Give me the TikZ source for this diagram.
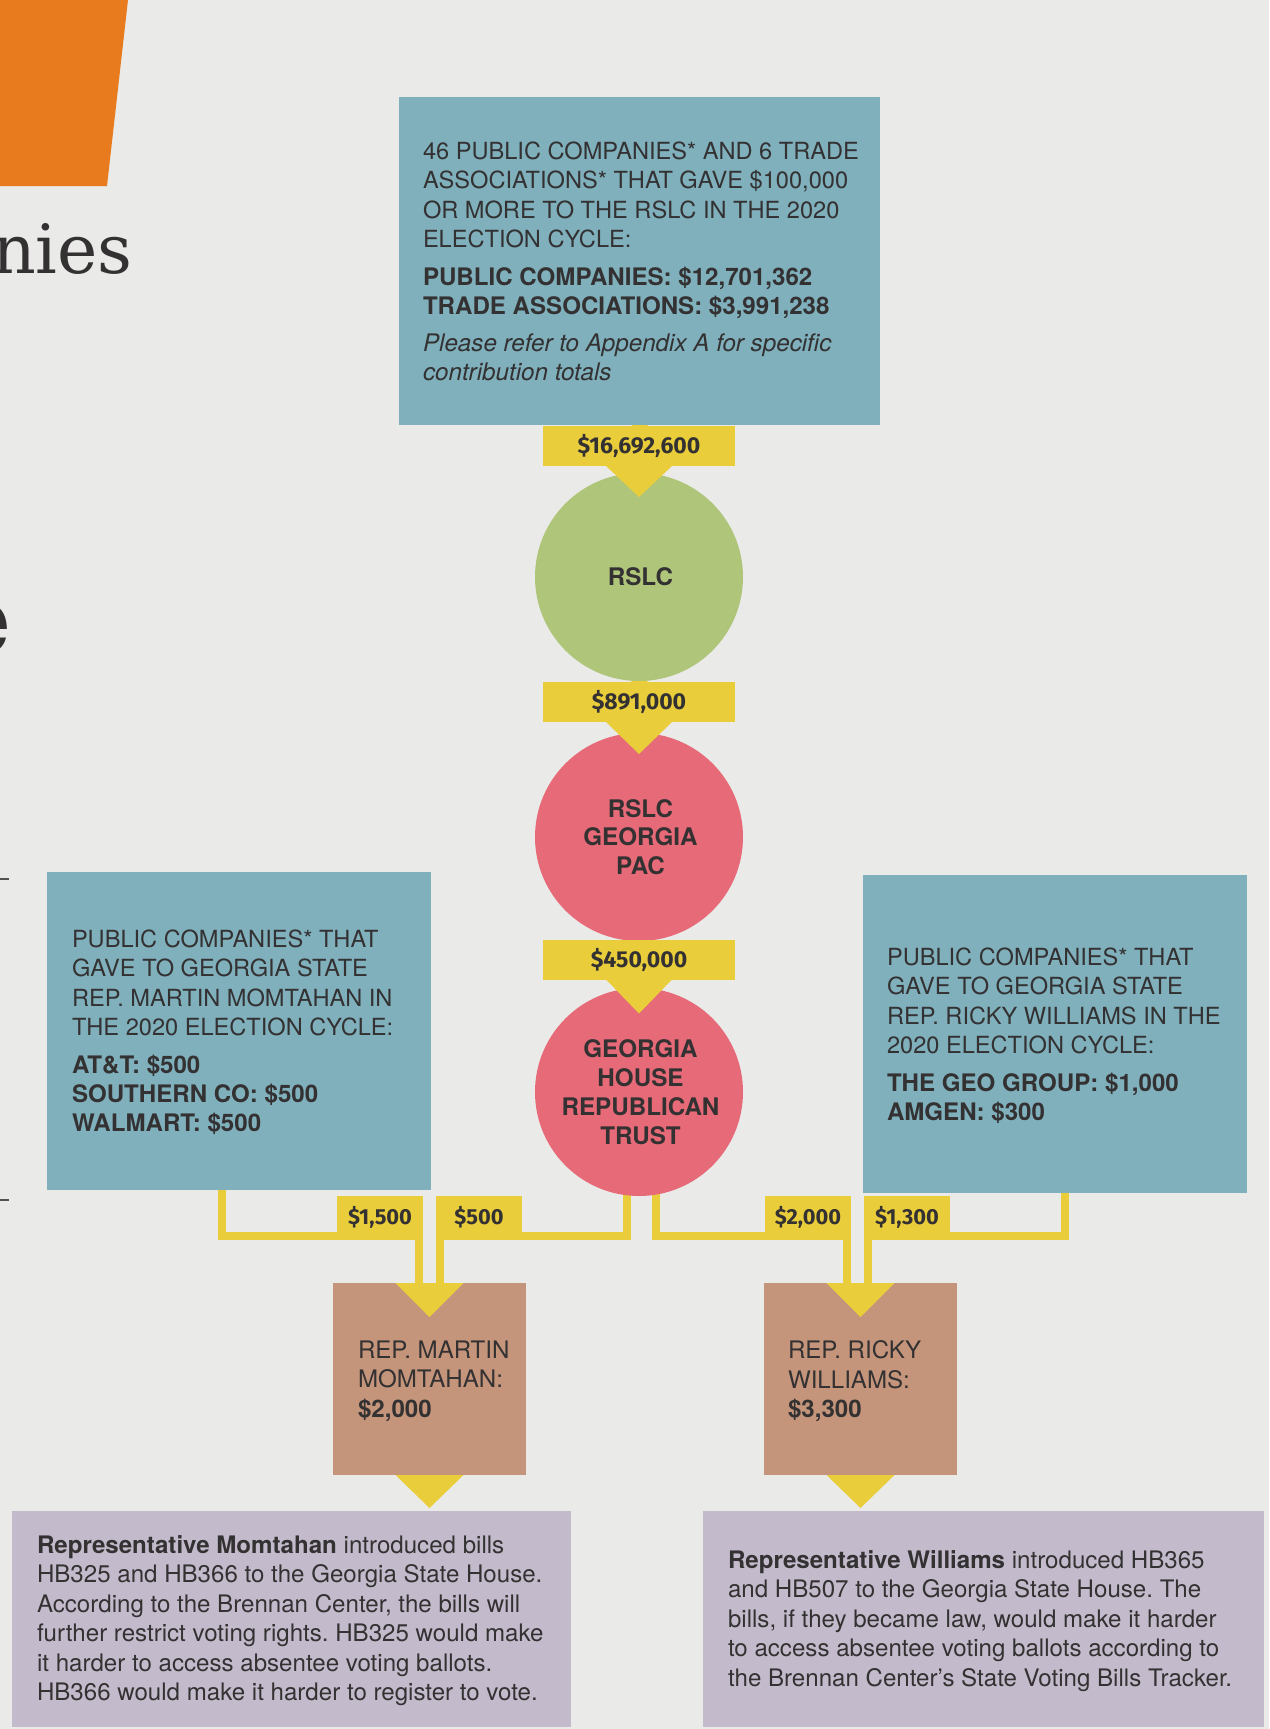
\documentclass[tikz,border=0pt]{standalone}
\usepackage{fontspec}
\setmainfont{TeX Gyre Heros}
\newfontfamily\labfont{Fira Sans}
\newfontfamily\slabfont{DejaVu Serif}
\frenchspacing
\definecolor{bgc}{HTML}{EAEAE8}
\definecolor{boxblue}{HTML}{7FB0BC}
\definecolor{yel}{HTML}{E9CD3B}
\definecolor{grn}{HTML}{AFC57A}
\definecolor{pnk}{HTML}{E66A77}
\definecolor{reptan}{HTML}{C4957B}
\definecolor{lil}{HTML}{C3BBCB}
\definecolor{org}{HTML}{E87B1D}
\definecolor{ink}{HTML}{333132}
\begin{document}
\begin{tikzpicture}[x=1pt,y=-1pt,
  panel/.style={rectangle, inner sep=0, outer sep=0, draw=none},
  maintxt/.style={anchor=north west, inner sep=0, outer sep=0, align=left, text=ink,
    font=\frenchspacing\fontsize{23.6}{29.2}\selectfont},
  boldtxt/.style={maintxt, font=\bfseries\fontsize{24.1}{29.2}\selectfont},
  reptxt/.style={maintxt, font=\fontsize{24.1}{29.5}\selectfont},
  notetxt/.style={anchor=north west, inner sep=0, outer sep=0, align=left, text=ink,
    font=\frenchspacing\fontsize{24.1}{29.4}\selectfont},
  circ/.style={circle, minimum size=208pt, inner sep=0, outer sep=0, text=ink, align=center,
    font=\bfseries\fontsize{24.2}{28.8}\selectfont},
  biglab/.style={rectangle, fill=yel, minimum width=192pt, minimum height=40pt, inner sep=0,
    outer sep=0, text=ink, font=\labfont\bfseries\fontsize{23}{27}\selectfont},
  smalllab/.style={rectangle, fill=yel, minimum width=86pt, minimum height=43pt, inner sep=0,
    outer sep=0, text=ink, font=\labfont\bfseries\fontsize{21.8}{25}\selectfont},
  conn/.style={draw=yel, line width=8pt},
  stem/.style={draw=yel, line width=16pt},
  tri/.style={fill=yel}
]
% canvas
\fill[bgc] (0,0) rectangle (1269,1729);
\useasboundingbox (0,0) rectangle (1269,1729);
\clip (0,0) rectangle (1269,1729);

% page fragments on the left
\fill[org] (0,0) -- (128,0) -- (107,186) -- (0,186) -- cycle;
\node[anchor=base east, inner sep=0, text=ink, font=\slabfont\fontsize{68}{70}\selectfont] (ttl) at (133,273) {nies};
\node[anchor=base east, inner sep=0, text=ink, font=\slabfont\fontsize{92}{92}\selectfont] (ttl2) at (12,652) {e};
\draw[ink!85, line width=1.2pt] (0,879) -- (9,879);
\draw[ink!85, line width=1.2pt] (0,1200) -- (9,1200);

% boxes
\node[panel, fill=boxblue, minimum width=481pt, minimum height=328pt] (topbox) at (639.5,261) {};
\node[panel, fill=boxblue, minimum width=384pt, minimum height=318pt] (lbox) at (239,1031) {};
\node[panel, fill=boxblue, minimum width=384pt, minimum height=318pt] (rbox) at (1055,1034) {};
\node[panel, fill=reptan, minimum width=193pt, minimum height=192pt] (mrep) at (429.5,1379) {};
\node[panel, fill=reptan, minimum width=193pt, minimum height=192pt] (wrep) at (860.5,1379) {};
\node[panel, fill=lil, minimum width=559pt, minimum height=216pt] (mnote) at (291.5,1619) {};
\node[panel, fill=lil, minimum width=561pt, minimum height=216pt] (wnote) at (983.5,1619) {};

% circle positions (for the stem)
\coordinate (cR) at (639,577);
\coordinate (cP) at (639,837);
\coordinate (cG) at (639,1092);

% central stem and branch connectors (behind circles)
\draw[stem] (topbox.south) -- (cG);
\coordinate (lk) at (222,1235.5);
\coordinate (ma) at (418.5,1235.5);
\coordinate (mb) at (440,1235.5);
\coordinate (gl) at (627,1235.5);
\coordinate (gr) at (656,1235.5);
\coordinate (wa) at (847,1235.5);
\coordinate (wb) at (868,1235.5);
\coordinate (rk) at (1065,1235.5);
\draw[conn] (lbox.south -| lk) -- (lk) -- (ma) -- (mrep.north -| ma);
\draw[conn] (cG -| gl) -- (gl) -- (mb) -- (mrep.north -| mb);
\draw[conn] (cG -| gr) -- (gr) -- (wa) -- (wrep.north -| wa);
\draw[conn] (rbox.south -| rk) -- (rk) -- (wb) -- (wrep.north -| wb);

% circles
\node[circ, fill=grn] (rslc) at (cR) {\hspace*{3pt}RSLC};
\node[circ, fill=pnk] (pac) at (cP) {\hspace*{3pt}RSLC\\\hspace*{3pt}GEORGIA\\\hspace*{3pt}PAC};
\node[circ, fill=pnk] (ghrt) at (cG) {\hspace*{3pt}GEORGIA\\\hspace*{3pt}HOUSE\\\hspace*{3pt}REPUBLICAN\\\hspace*{3pt}TRUST};

% amount labels on the stem
\node[biglab] (l1) at (639,446) {\$16,692,600};
\node[biglab] (l2) at (639,702) {\$891,000};
\node[biglab] (l3) at (639,959.5) {\$450,000};
\fill[tri] ([xshift=-33pt]l1.south) -- ([xshift=33pt]l1.south) -- ([yshift=-31pt]l1.south) -- cycle;
\fill[tri] ([xshift=-33pt]l2.south) -- ([xshift=33pt]l2.south) -- ([yshift=-32pt]l2.south) -- cycle;
\fill[tri] ([xshift=-33pt]l3.south) -- ([xshift=33pt]l3.south) -- ([yshift=-34pt]l3.south) -- cycle;

% branch labels
\node[smalllab] (s1) at (380,1217.5) {\$1,500};
\node[smalllab] (s2) at (479,1217.5) {\$500};
\node[smalllab] (s3) at (808,1217.5) {\$2,000};
\node[smalllab] (s4) at (907,1217.5) {\$1,300};

% triangles on rep boxes
\fill[tri] ([xshift=-34pt]mrep.north) -- ([xshift=34pt]mrep.north) -- ([yshift=-34pt]mrep.north) -- cycle;
\fill[tri] ([xshift=-34pt]wrep.north) -- ([xshift=34pt]wrep.north) -- ([yshift=-34pt]wrep.north) -- cycle;
\fill[tri] ([xshift=-34pt]mrep.south) -- ([xshift=34pt]mrep.south) -- ([yshift=-33pt]mrep.south) -- cycle;
\fill[tri] ([xshift=-34pt]wrep.south) -- ([xshift=34pt]wrep.south) -- ([yshift=-33pt]wrep.south) -- cycle;

% texts: top box
\node[maintxt] (t1) at (423,142) {46 PUBLIC COMPANIES* AND 6 TRADE\\ASSOCIATIONS* THAT GAVE \$100,000\\OR MORE TO THE RSLC IN THE 2020\\ELECTION CYCLE:};
\node[boldtxt] (t2) at (423,266.7) {PUBLIC COMPANIES: \$12,701,362\\TRADE ASSOCIATIONS: \$3,991,238};
\node[maintxt, font=\itshape\fontsize{24.2}{29.2}\selectfont] (t3) at (423,333.5) {Please refer to Appendix A for specific\\contribution totals};

% left box
\node[maintxt] (t4) at (72,930) {PUBLIC COMPANIES* THAT\\GAVE TO GEORGIA STATE\\REP. MARTIN MOMTAHAN IN\\THE 2020 ELECTION CYCLE:};
\node[boldtxt] (t5) at (72,1054.7) {AT\&T: \$500\\SOUTHERN CO: \$500\\WALMART: \$500};

% right box
\node[maintxt] (t6) at (887,948) {PUBLIC COMPANIES* THAT\\GAVE TO GEORGIA STATE\\REP. RICKY WILLIAMS IN THE\\2020 ELECTION CYCLE:};
\node[boldtxt] (t7) at (887,1072.7) {THE GEO GROUP: \$1,000\\AMGEN: \$300};

% rep boxes
\node[reptxt] (t8) at (358,1340.7) {REP. MARTIN\\MOMTAHAN:\\\textbf{\$2,000}};
\node[reptxt] (t9) at (788,1340.7) {REP. RICKY\\WILLIAMS:\\\textbf{\$3,300}};

% notes
\node[notetxt] (t10) at (37,1535.6) {\textbf{Representative Momtahan} introduced bills\\HB325 and HB366 to the Georgia State House.\\According to the Brennan Center, the bills will\\further restrict voting rights. HB325 would make\\it harder to access absentee voting ballots.\\HB366 would make it harder to register to vote.};
\node[notetxt] (t11) at (728,1550.6) {\textbf{Representative Williams} introduced HB365\\and HB507 to the Georgia State House. The\\bills, if they became law, would make it harder\\to access absentee voting ballots according to\\the Brennan Center’s State Voting Bills Tracker.};
\end{tikzpicture}
\end{document}
